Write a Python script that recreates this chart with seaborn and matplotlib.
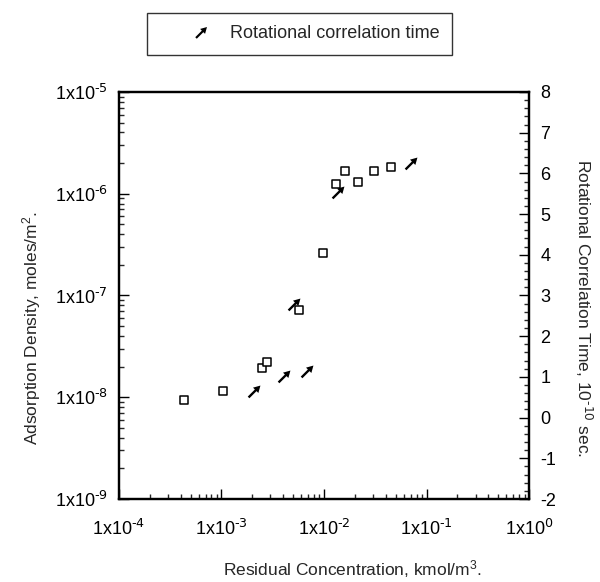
import numpy as np
import seaborn as sns
import matplotlib.pyplot as plt
from matplotlib.path import Path
from matplotlib.lines import Line2D
from matplotlib.ticker import FixedLocator, MultipleLocator, LogLocator, NullFormatter

# adsorption density (squares, left axis)
conc_ads = [4.3e-4, 1.03e-3, 2.49e-3, 2.79e-3, 5.7e-3, 9.7e-3, 1.32e-2, 1.61e-2, 2.16e-2, 3.09e-2, 4.5e-2]
density = [9.3e-9, 1.14e-8, 1.93e-8, 2.21e-8, 7.2e-8, 2.59e-7, 1.26e-6, 1.67e-6, 1.30e-6, 1.66e-6, 1.85e-6]

# rotational correlation time (arrows, right axis)
conc_rot = [2.07e-3, 4.05e-3, 6.8e-3, 5.14e-3, 1.37e-2, 7.1e-2]
rot_time = [0.65, 1.03, 1.15, 2.80, 5.53, 6.26]

x_ticks = [1e-4, 1e-3, 1e-2, 1e-1, 1e0]
x_labels = [r'1x10$^{\text{-4}}$', r'1x10$^{\text{-3}}$', r'1x10$^{\text{-2}}$',
            r'1x10$^{\text{-1}}$', r'1x10$^{\text{0}}$']
y_ticks = [1e-9, 1e-8, 1e-7, 1e-6, 1e-5]
y_labels = [r'1x10$^{\text{-9}}$', r'1x10$^{\text{-8}}$', r'1x10$^{\text{-7}}$',
            r'1x10$^{\text{-6}}$', r'1x10$^{\text{-5}}$']

sns.set_style("ticks")
plt.rcParams['font.family'] = ['Liberation Sans', 'DejaVu Sans']
plt.rcParams['mathtext.default'] = 'regular'
plt.rcParams['axes.unicode_minus'] = False

# arrow marker pointing up-right
base = np.array([(-1, -0.14), (0.2, -0.14), (0.2, -0.45), (1, 0), (0.2, 0.45),
                 (0.2, 0.14), (-1, 0.14), (-1, -0.14)])
c, s = np.cos(np.pi / 4), np.sin(np.pi / 4)
rot = base @ np.array([[c, s], [-s, c]])
arrow = Path(rot, [Path.MOVETO] + [Path.LINETO] * 6 + [Path.CLOSEPOLY])

fig = plt.figure(figsize=(6, 5.82), dpi=100)
ax = fig.add_axes([0.198, 0.1426, 0.684, 0.6994])
ax2 = ax.twinx()

sns.scatterplot(x=conc_ads, y=density, marker='s', s=30, color='white',
                edgecolor='black', linewidth=1.1, ax=ax, zorder=3)
sns.scatterplot(x=conc_rot, y=rot_time, marker=arrow, s=95, color='black',
                edgecolor='black', linewidth=0, ax=ax2, zorder=3)

ax.set_xscale('log')
ax.set_yscale('log')
ax.set_xlim(1e-4, 1e0)
ax.set_ylim(1e-9, 1e-5)
ax2.set_ylim(-2, 8)

ax.xaxis.set_major_locator(FixedLocator(x_ticks))
ax.set_xticklabels(x_labels)
ax.xaxis.set_minor_locator(LogLocator(base=10, subs=np.arange(2, 10)))
ax.xaxis.set_minor_formatter(NullFormatter())
ax.yaxis.set_major_locator(FixedLocator(y_ticks))
ax.set_yticklabels(y_labels)
ax.yaxis.set_minor_locator(LogLocator(base=10, subs=np.arange(2, 10)))
ax.yaxis.set_minor_formatter(NullFormatter())

ax2.yaxis.set_major_locator(MultipleLocator(1))
ax2.yaxis.set_minor_locator(MultipleLocator(0.2))

for a in (ax, ax2):
    for sp in a.spines.values():
        sp.set_visible(True)
        sp.set_linewidth(1.6)
        sp.set_color('black')
    a.tick_params(which='major', direction='in', length=7, width=1, labelsize=13, pad=8, colors='black')
    a.tick_params(which='minor', direction='in', length=3.5, width=1)
ax.tick_params(axis='x', which='both', top=False, pad=14)
ax.tick_params(axis='y', which='both', right=False)

ax.set_xlabel('Residual Concentration, kmol/m$^3$.', fontsize=12.5, labelpad=8)
ax.xaxis.set_label_coords(0.57, -0.145)
ax.set_ylabel('Adsorption Density, moles/m$^2$.', fontsize=12.5, va='center', ha='center')
ax.yaxis.set_label_coords(-0.212, 0.42)
ax2.set_ylabel(r'Rotational Correlation Time, 10$^{\text{-10}}$ sec.', fontsize=12.5,
               rotation=-90, va='center', ha='center')
ax2.yaxis.set_label_coords(1.132, 0.47)

handle = Line2D([], [], linestyle='none', marker=arrow, markersize=9,
                color='black', markeredgewidth=0)
leg = fig.legend([handle], ['Rotational correlation time'], loc='upper center',
                 bbox_to_anchor=(0.499, 0.978), fontsize=13, frameon=True,
                 fancybox=False, edgecolor='black', borderpad=0.7, borderaxespad=0,
                 handlelength=4.6, handletextpad=-0.7)
leg.get_frame().set_linewidth(1)

fig.savefig('out.png', dpi=100)
